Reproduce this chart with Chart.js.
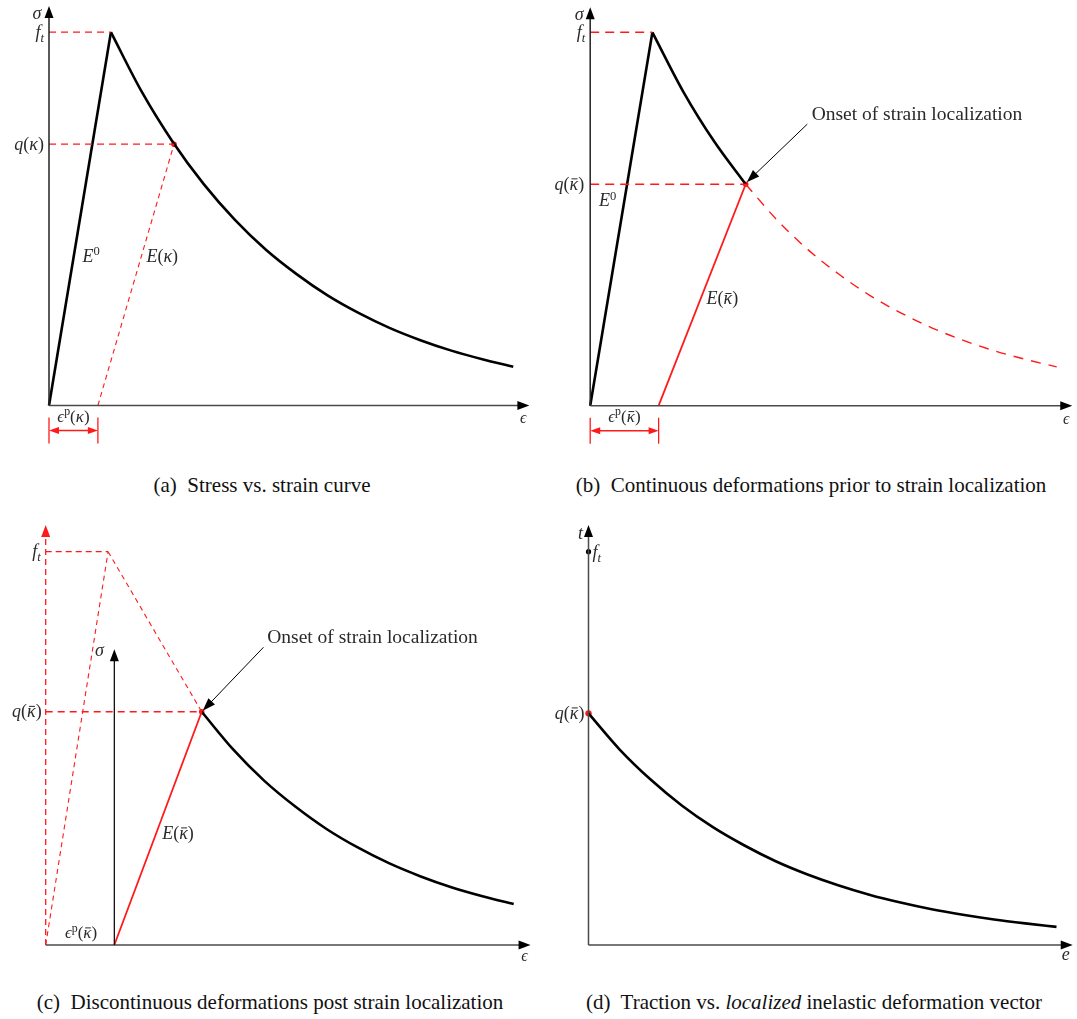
<!DOCTYPE html>
<html>
<head>
<meta charset="utf-8">
<script src="https://cdn.jsdelivr.net/npm/chart.js@4.4.0/dist/chart.umd.min.js"></script>
<style>
  body { margin: 0; background: #fff; }
  #fig { position: relative; width: 1077px; height: 1019px; }
  canvas { position: absolute; }
  .cap { position: absolute; font: 21px "Liberation Serif", serif; line-height: 24px; color: #111;
         white-space: nowrap; transform: translateX(-50%); }
</style>
</head>
<body>
<div id="fig">
  <canvas id="chartA" width="540" height="460" style="left:0;top:0"></canvas>
  <canvas id="chartB" width="537" height="460" style="left:540px;top:0"></canvas>
  <canvas id="chartC" width="540" height="470" style="left:0;top:510px"></canvas>
  <canvas id="chartD" width="537" height="470" style="left:540px;top:510px"></canvas>
  <div class="cap" style="left:262px;top:473px">(a)&nbsp; Stress vs. strain curve</div>
  <div class="cap" style="left:811px;top:473px">(b)&nbsp; Continuous deformations prior to strain localization</div>
  <div class="cap" style="left:270px;top:990px">(c)&nbsp; Discontinuous deformations post strain localization</div>
  <div class="cap" style="left:814px;top:990px">(d)&nbsp; Traction vs. <i>localized</i> inelastic deformation vector</div>
</div>
<script>
/* ---- values (f_t = 1, strain at peak = 1) ---- */
const peakStrain = 1.0;
const ft = 1.0;
const softStrain = [1.0, 1.5, 2.0, 2.5, 3.0, 3.5, 4.0, 4.5, 5.0, 5.5, 6.0, 6.5, 7.0, 7.5];
const softStress = [1.000, 0.840, 0.706, 0.593, 0.498, 0.418, 0.352, 0.295, 0.248, 0.208, 0.175, 0.147, 0.124, 0.104];

// (a) unloading branch: [plastic strain, strain at kappa], q(kappa)
const unloadA = [0.79, 2.02];
const qA = 0.70;

// (b)/(c) onset of localization: [plastic strain, onset strain], q(kappa bar)
const unloadB = [1.10, 2.5];
const qB = 0.593;

// (d) traction vs. localized deformation
const openE = [0, 0.5, 1.0, 1.5, 2.0, 2.5, 3.0, 3.5, 4.0, 4.5, 5.0, 5.5, 6.0, 6.5, 7.0, 7.5];
const tracT = [0.589, 0.497, 0.420, 0.354, 0.299, 0.253, 0.213, 0.180, 0.152, 0.128, 0.108, 0.091, 0.077, 0.065, 0.055, 0.046];

const RED = '#ff1a1a', BLACK = '#000', AXIS = '#4a4a4a', TXT = '#2a2a2a';
const FONT = '"Liberation Serif", "DejaVu Serif", serif';

/* ---- helpers ---- */
function line(xs, ys, color, width, dash) {
  return {
    data: xs.map((x, i) => ({ x, y: ys[i] })),
    showLine: true, borderColor: color, borderWidth: width, borderDash: dash || [],
    pointRadius: 0, fill: false, clip: false, tension: 0
  };
}
function curve(xs, ys, color, width, dash) {
  const d = line(xs, ys, color, width, dash);
  d.cubicInterpolationMode = 'monotone';
  return d;
}
function dot(x, y, color, r) {
  return { data: [{ x, y }], showLine: false, pointRadius: r, pointBackgroundColor: color,
           pointBorderWidth: 0, clip: false };
}

function arrowHead(ctx, x, y, ang, len, half, color) {
  ctx.save();
  ctx.translate(x, y); ctx.rotate(ang);
  ctx.beginPath();
  ctx.moveTo(0, 0); ctx.lineTo(-len, -half); ctx.lineTo(-len, half); ctx.closePath();
  ctx.fillStyle = color; ctx.fill();
  ctx.restore();
}
function seg(ctx, x0, y0, x1, y1, color, width, dash) {
  ctx.save();
  ctx.strokeStyle = color; ctx.lineWidth = width; ctx.setLineDash(dash || []);
  ctx.beginPath(); ctx.moveTo(x0, y0); ctx.lineTo(x1, y1); ctx.stroke();
  ctx.restore();
}
function arrow(ctx, x0, y0, x1, y1, color, width, len, half) {
  const a = Math.atan2(y1 - y0, x1 - x0);
  seg(ctx, x0, y0, x1 - Math.cos(a) * len * 0.8, y1 - Math.sin(a) * len * 0.8, color, width);
  arrowHead(ctx, x1, y1, a, len, half, color);
}

// segs: [text, style]; style: 'i' italic, 'r' roman, 'ibar' italic with bar, suffix 'sub' / 'sup'
function mathText(ctx, segs, x, y, align, size) {
  const fontOf = s => (s[0] === 'i' ? 'italic ' : '') + (/sub|sup/.test(s) ? size * 0.7 : size) + 'px ' + FONT;
  let w = 0;
  const ws = segs.map(([t, s]) => { ctx.font = fontOf(s); const m = ctx.measureText(t).width; w += m; return m; });
  let cx = align === 'center' ? x - w / 2 : align === 'right' ? x - w : x;
  ctx.textAlign = 'left'; ctx.textBaseline = 'alphabetic'; ctx.fillStyle = TXT;
  const base = y + size * 0.3;
  segs.forEach(([t, s], i) => {
    ctx.font = fontOf(s);
    let dy = 0;
    if (s.endsWith('sub')) dy = size * 0.22;
    if (s.endsWith('sup')) dy = -size * 0.38;
    ctx.fillText(t, cx, base + dy);
    if (s === 'ibar') {
      const by = base - size * 0.6;
      seg(ctx, cx + ws[i] * 0.22, by, cx + ws[i] * 0.92, by, TXT, 1);
    }
    cx += ws[i];
  });
}

const FT = [['f', 'i'], ['t', 'isub']];
const Q_K = [['q', 'i'], ['(', 'r'], ['κ', 'i'], [')', 'r']];
const Q_KB = [['q', 'i'], ['(', 'r'], ['κ', 'ibar'], [')', 'r']];
const EP_K = [['ϵ', 'i'], ['p', 'rsup'], ['(', 'r'], ['κ', 'i'], [')', 'r']];
const EP_KB = [['ϵ', 'i'], ['p', 'rsup'], ['(', 'r'], ['κ', 'ibar'], [')', 'r']];
const E0 = [['E', 'i'], ['0', 'rsup']];
const E_K = [['E', 'i'], ['(', 'r'], ['κ', 'i'], [')', 'r']];
const E_KB = [['E', 'i'], ['(', 'r'], ['κ', 'ibar'], [')', 'r']];

function bracket(ctx, xa, xb, y0) {
  seg(ctx, xa, y0 + 12, xa, y0 + 38, RED, 1.3);
  seg(ctx, xb, y0 + 12, xb, y0 + 38, RED, 1.3);
  seg(ctx, xa + 6, y0 + 25, xb - 6, y0 + 25, RED, 1.6);
  arrowHead(ctx, xa, y0 + 25, Math.PI, 10, 3.5, RED);
  arrowHead(ctx, xb, y0 + 25, 0, 10, 3.5, RED);
}

function makeChart(id, L, datasets, draw) {
  const cv = document.getElementById(id);
  const W = cv.width, H = cv.height;
  return new Chart(cv, {
    type: 'scatter',
    data: { datasets },
    options: {
      responsive: false, animation: false, devicePixelRatio: 1, events: [],
      layout: { padding: { left: L.ox, top: L.oy - L.yMax * L.uy,
                           right: W - L.ox - L.xMax * L.ux, bottom: H - L.oy } },
      plugins: { legend: { display: false }, tooltip: { enabled: false } },
      scales: {
        x: { type: 'linear', display: false, min: 0, max: L.xMax },
        y: { type: 'linear', display: false, min: 0, max: L.yMax }
      }
    },
    plugins: [{
      id: 'decor_' + id,
      afterDatasetsDraw(chart) {
        const X = v => chart.scales.x.getPixelForValue(v);
        const Y = v => chart.scales.y.getPixelForValue(v);
        chart.ctx.save();
        draw(chart.ctx, X, Y, L);
        chart.ctx.restore();
      }
    }]
  });
}

function axes(ctx, X, Y, L, yColor) {
  seg(ctx, X(0), Y(0), X(L.xMax) - 8, Y(0), AXIS, 1.5);
  arrowHead(ctx, X(L.xMax), Y(0), 0, 12, 4.5, '#000');
  if (yColor) {
    seg(ctx, X(0), Y(0), X(0), Y(L.yMax) + 8, yColor, 1.5);
    arrowHead(ctx, X(0), Y(L.yMax), -Math.PI / 2, 12, 4.5, '#000');
  }
}

function onsetLabel(ctx, x, y) {
  ctx.font = '19.5px ' + FONT; ctx.fillStyle = TXT; ctx.textAlign = 'left'; ctx.textBaseline = 'middle';
  ctx.fillText('Onset of strain localization', x, y);
}

/* ---- (a) ---- */
const LA = { ox: 49, oy: 405.5, ux: 61.9, uy: 373.3, xMax: 7.76, yMax: 1.07 };
makeChart('chartA', LA, [
  line([0, peakStrain], [ft, ft], RED, 1.3, [7, 5]),
  line([0, unloadA[1]], [qA, qA], RED, 1.3, [7, 5]),
  line(unloadA, [0, qA], RED, 1.1, [5, 4]),
  line([0, peakStrain], [0, ft], BLACK, 2.6),
  curve(softStrain, softStress, BLACK, 2.6),
  dot(unloadA[1], qA, RED, 2.8)
], (ctx, X, Y, L) => {
  axes(ctx, X, Y, L, '#222');
  mathText(ctx, [['σ', 'i']], X(0) - 12, Y(L.yMax) + 8, 'center', 18);
  mathText(ctx, FT, X(0) - 5, Y(ft), 'right', 18);
  mathText(ctx, Q_K, X(0) - 5, Y(qA), 'right', 18);
  mathText(ctx, E0, X(0.68), Y(0.398), 'center', 18);
  mathText(ctx, E_K, X(1.83), Y(0.398), 'center', 18);
  mathText(ctx, [['ϵ', 'i']], X(L.xMax) - 6, Y(0) + 13, 'center', 16);
  mathText(ctx, EP_K, (X(0) + X(unloadA[0])) / 2, Y(0) + 11, 'center', 17);
  bracket(ctx, X(0), X(unloadA[0]), Y(0));
});

/* ---- (b) ---- */
const LB = { ox: 50.2, oy: 405.7, ux: 62.2, uy: 373.4, xMax: 7.75, yMax: 1.067 };
const preB = softStrain.map((x, i) => i).filter(i => softStrain[i] <= unloadB[1]);
const postB = softStrain.map((x, i) => i).filter(i => softStrain[i] >= unloadB[1]);
makeChart('chartB', LB, [
  line([0, peakStrain], [ft, ft], RED, 1.5, [9, 6]),
  line([0, unloadB[1]], [qB, qB], RED, 1.5, [9, 6]),
  curve(postB.map(i => softStrain[i]), postB.map(i => softStress[i]), RED, 1.4, [10, 8]),
  line(unloadB, [0, qB], RED, 1.8),
  line([0, peakStrain], [0, ft], BLACK, 2.6),
  curve(preB.map(i => softStrain[i]), preB.map(i => softStress[i]), BLACK, 2.6),
  dot(unloadB[1], qB, RED, 2.8)
], (ctx, X, Y, L) => {
  axes(ctx, X, Y, L, '#222');
  mathText(ctx, [['σ', 'i']], X(0) - 11, Y(L.yMax) + 7, 'center', 18);
  mathText(ctx, FT, X(0) - 5, Y(ft), 'right', 18);
  mathText(ctx, Q_KB, X(0) - 6, Y(qB), 'right', 18);
  mathText(ctx, E0, X(0.28), Y(0.548), 'center', 18);
  mathText(ctx, E_KB, X(2.125), Y(0.286), 'center', 18);
  mathText(ctx, [['ϵ', 'i']], X(L.xMax) - 6, Y(0) + 13, 'center', 16);
  mathText(ctx, EP_KB, (X(0) + X(unloadB[0])) / 2, Y(0) + 11, 'center', 17);
  bracket(ctx, X(0), X(unloadB[0]), Y(0));
  arrow(ctx, X(3.49), Y(0.754), X(unloadB[1]) + 1, Y(qB) - 2, '#000', 1, 13, 4.5);
  onsetLabel(ctx, X(3.56), Y(0.78));
});

/* ---- (c) ---- */
const LC = { ox: 45.7, oy: 435, ux: 62.4, uy: 393.3, xMax: 7.77, yMax: 1.068 };
const sigmaTopC = 0.752;
makeChart('chartC', LC, [
  line([0, 0], [0, LC.yMax - 0.02], RED, 1.3, [6, 4]),
  line([0, peakStrain], [ft, ft], RED, 1.2, [6, 4]),
  line([0, peakStrain], [0, ft], RED, 1.1, [5, 4]),
  line([peakStrain, unloadB[1]], [ft, qB], RED, 1.1, [5, 4]),
  line([0, unloadB[1]], [qB, qB], RED, 1.3, [7, 5]),
  line(unloadB, [0, qB], RED, 1.8),
  curve(postB.map(i => softStrain[i]), postB.map(i => softStress[i]), BLACK, 2.6),
  dot(unloadB[1], qB, RED, 2.8)
], (ctx, X, Y, L) => {
  axes(ctx, X, Y, L, null);
  arrowHead(ctx, X(0), Y(L.yMax), -Math.PI / 2, 12, 4.5, RED);
  seg(ctx, X(unloadB[0]), Y(0), X(unloadB[0]), Y(sigmaTopC) + 8, '#111', 1.3);
  arrowHead(ctx, X(unloadB[0]), Y(sigmaTopC), -Math.PI / 2, 12, 4.5, '#000');
  mathText(ctx, [['σ', 'i']], X(unloadB[0]) - 15, Y(sigmaTopC) + 1, 'center', 18);
  mathText(ctx, FT, X(0) - 5, Y(ft), 'right', 18);
  mathText(ctx, Q_KB, X(0) - 4, Y(qB), 'right', 18);
  mathText(ctx, E_KB, X(2.12), Y(0.284), 'center', 18);
  mathText(ctx, [['ϵ', 'i']], X(L.xMax) - 6, Y(0) + 11, 'center', 16);
  mathText(ctx, EP_KB, (X(0) + X(unloadB[0])) / 2 + 1, Y(0) - 12, 'center', 17);
  arrow(ctx, X(3.49), Y(0.757), X(unloadB[1]) + 1, Y(qB) - 1, '#000', 1, 13, 4.5);
  onsetLabel(ctx, X(3.55), Y(0.78));
});

/* ---- (d) ---- */
const LD = { ox: 48.5, oy: 435, ux: 62.4, uy: 393.3, xMax: 7.76, yMax: 1.068 };
makeChart('chartD', LD, [
  curve(openE, tracT, BLACK, 2.6),
  dot(0, ft, BLACK, 2.6),
  dot(0, tracT[0], RED, 3.2)
], (ctx, X, Y, L) => {
  axes(ctx, X, Y, L, AXIS);
  mathText(ctx, [['t', 'i']], X(0) - 8, Y(L.yMax) + 9, 'center', 18);
  mathText(ctx, FT, X(0) + 4, Y(ft) + 1, 'left', 18);
  mathText(ctx, Q_KB, X(0) - 4, Y(tracT[0]), 'right', 18);
  mathText(ctx, [['e', 'i']], X(L.xMax) - 7, Y(0) + 10, 'center', 18);
});
</script>
</body>
</html>
